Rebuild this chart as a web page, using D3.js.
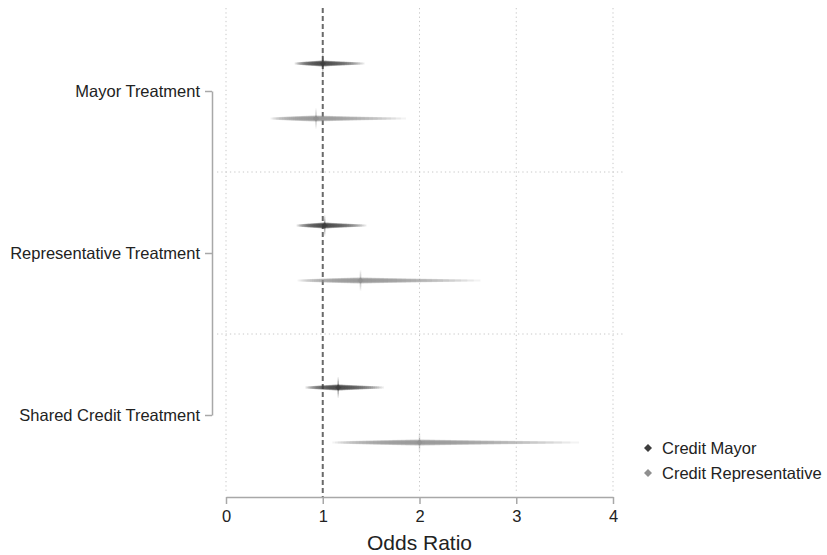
<!DOCTYPE html>
<html>
<head>
<meta charset="utf-8">
<script src="https://cdn.jsdelivr.net/npm/d3@7"></script>
<style>
  body { margin: 0; background: #fff; }
  text { font-family: "Liberation Sans", Arial, sans-serif; fill: #222; }
</style>
</head>
<body>
<svg id="chart" width="827" height="555"></svg>
<script>
// categories and series
var treatments = ["Mayor Treatment", "Representative Treatment", "Shared Credit Treatment"];
var seriesNames = ["Credit Mayor", "Credit Representative"];
var seriesColors = ["#3d3d3d", "#8f8f8f"];

// odds ratio estimates and 95% bounds, one entry per treatment
var mayorOR  = [1.00, 1.02, 1.16];
var mayorLo  = [0.71, 0.73, 0.82];
var mayorHi  = [1.43, 1.45, 1.63];
var repOR    = [0.93, 1.39, 2.00];
var repLo    = [0.46, 0.74, 1.10];
var repHi    = [1.86, 2.63, 3.65];

var xTicks = [0, 1, 2, 3, 4];

var est = [
  {or: mayorOR, lo: mayorLo, hi: mayorHi},
  {or: repOR, lo: repLo, hi: repHi}
];

var svg = d3.select("#chart");

// soft blur for the interval shapes
svg.append("defs").append("filter")
    .attr("id", "soft")
    .attr("x", "-10%").attr("y", "-200%")
    .attr("width", "120%").attr("height", "500%")
  .append("feGaussianBlur")
    .attr("stdDeviation", 0.7);

var x = d3.scaleLinear().domain([0, 4]).range([226, 613]);
var y = d3.scaleBand().domain(treatments).range([10, 496]).paddingInner(0);
var offset = d3.scalePoint().domain(seriesNames).range([-27.5, 27.5]);

// vertical dotted grid
svg.append("g").selectAll("line")
  .data(xTicks.filter(function(d) { return d !== 1; }))
  .enter().append("line")
    .attr("x1", function(d) { return x(d); })
    .attr("x2", function(d) { return x(d); })
    .attr("y1", 8).attr("y2", 493)
    .attr("stroke", "#c8c8c8")
    .attr("stroke-width", 1)
    .attr("stroke-dasharray", "1.3,3");

// horizontal separators between treatment groups
svg.append("g").selectAll("line")
  .data(treatments.slice(1))
  .enter().append("line")
    .attr("x1", 217).attr("x2", 623)
    .attr("y1", function(d) { return y(d); })
    .attr("y2", function(d) { return y(d); })
    .attr("stroke", "#c8c8c8")
    .attr("stroke-width", 1)
    .attr("stroke-dasharray", "1.3,3");

// reference line at OR = 1
svg.append("line")
  .attr("x1", x(1)).attr("x2", x(1))
  .attr("y1", 8).attr("y2", 497)
  .attr("stroke", "#6a6a6a")
  .attr("stroke-width", 2)
  .attr("stroke-dasharray", "5,3");

// layered intervals, built in log space from the estimate to each bound
var layers = 24;
est.forEach(function(s, si) {
  var g = svg.append("g").attr("filter", "url(#soft)");
  var col = seriesColors[si];
  treatments.forEach(function(t, ti) {
    var cy = y(t) + y.bandwidth() / 2 + offset(seriesNames[si]);
    var lp = Math.log(s.or[ti]), ll = Math.log(s.lo[ti]), lh = Math.log(s.hi[ti]);
    for (var i = 0; i < layers; i++) {
      var f = (i + 1) / layers;
      g.append("line")
        .attr("x1", x(Math.exp(lp + f * (ll - lp))))
        .attr("x2", x(Math.exp(lp + f * (lh - lp))))
        .attr("y1", cy).attr("y2", cy)
        .attr("stroke", col)
        .attr("stroke-opacity", 0.11)
        .attr("stroke-width", 2 + 4.5 * (1 - f));
    }
    // vertical spike through the estimate
    for (var k = 0; k < 6; k++) {
      var h = 10 * (k + 1) / 6;
      g.append("line")
        .attr("x1", x(s.or[ti])).attr("x2", x(s.or[ti]))
        .attr("y1", cy - h).attr("y2", cy + h)
        .attr("stroke", col)
        .attr("stroke-opacity", 0.12)
        .attr("stroke-width", 1.5);
    }
    g.append("path")
      .attr("d", d3.symbol(d3.symbolSquare, 18)())
      .attr("transform", "translate(" + x(s.or[ti]) + "," + cy + ") rotate(45)")
      .attr("fill", col)
      .attr("opacity", 0.7);
  });
});

var font = "'Liberation Sans', Arial, sans-serif";

// y axis: bracket from first to last treatment
var yAxis = svg.append("g")
  .attr("transform", "translate(212,0)")
  .call(d3.axisLeft(d3.scalePoint().domain(treatments).range([91, 415]))
    .tickSize(7).tickPadding(5).tickSizeOuter(0));
yAxis.select(".domain").attr("stroke", "#a8a8a8").attr("stroke-width", 1.5);
yAxis.selectAll(".tick line").attr("stroke", "#a8a8a8").attr("stroke-width", 1.5);
yAxis.selectAll(".tick text").attr("font-size", 16.5).attr("fill", "#222")
  .style("font-family", font);

// x axis
var xAxis = svg.append("g")
  .attr("transform", "translate(0,497)")
  .call(d3.axisBottom(x).tickValues(xTicks).tickFormat(d3.format("d"))
    .tickSize(7).tickPadding(6).tickSizeOuter(0));
xAxis.select(".domain").attr("stroke", "#a8a8a8").attr("stroke-width", 1.5);
xAxis.selectAll(".tick line").attr("stroke", "#a8a8a8").attr("stroke-width", 1.5);
xAxis.selectAll(".tick text").attr("font-size", 16.5).attr("fill", "#222")
  .style("font-family", font);

svg.append("text")
  .attr("x", (x(0) + x(4)) / 2)
  .attr("y", 550)
  .attr("text-anchor", "middle")
  .attr("font-size", 21)
  .text("Odds Ratio");

// legend
var legend = svg.append("g").selectAll("g")
  .data(seriesNames)
  .enter().append("g")
    .attr("transform", function(d, i) { return "translate(648," + (448 + i * 25) + ")"; });
legend.append("path")
  .attr("d", d3.symbol(d3.symbolSquare, 32)())
  .attr("transform", "rotate(45)")
  .attr("fill", function(d, i) { return seriesColors[i]; });
legend.append("text")
  .attr("x", 14)
  .attr("dy", "0.35em")
  .attr("font-size", 16.5)
  .text(function(d) { return d; });
</script>
</body>
</html>
